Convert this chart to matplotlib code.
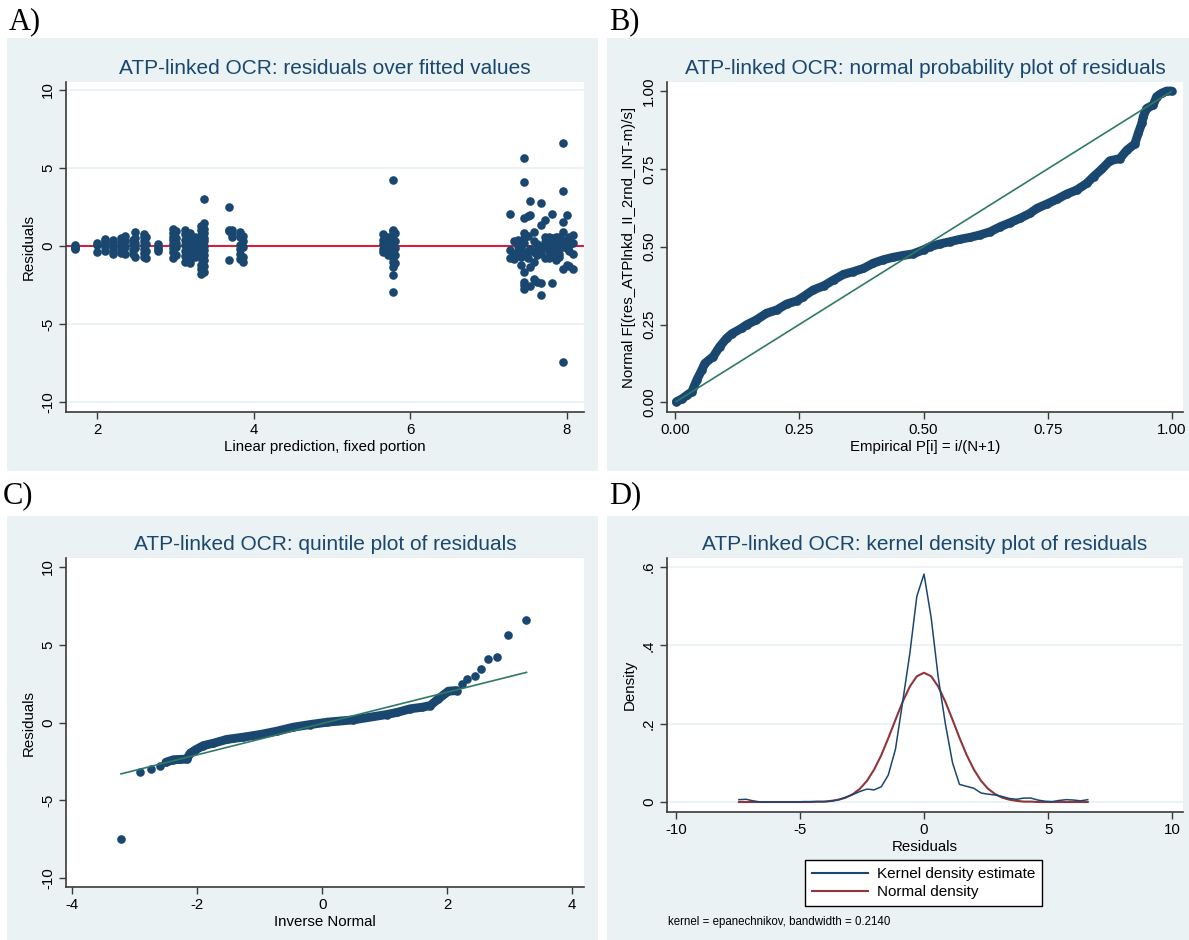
import matplotlib.pyplot as plt
from matplotlib.patches import Rectangle

plt.rcParams['font.family'] = ['Liberation Sans', 'DejaVu Sans']
plt.rcParams['axes.unicode_minus'] = False

# colours (Stata s2color look)
NAVY = '#1a476f'
MAROON = '#90353b'
GREEN = '#2f7a63'
RED = '#d4203c'
BG = '#eaf2f3'
AXC = '#3a3a3a'

# ---------------- data ----------------
# A) residuals over fitted values: one column of points per fitted value
fit_cols = [1.72, 1.99, 2.10, 2.20, 2.30, 2.35, 2.45, 2.48, 2.60, 2.62, 2.78,
            2.97, 3.00, 3.12, 3.18, 3.25, 3.33, 3.36, 3.68, 3.72, 3.82, 3.86,
            5.65, 5.72, 5.78, 5.80,
            7.28, 7.33, 7.38, 7.42, 7.45, 7.50, 7.53, 7.58, 7.62, 7.67, 7.72,
            7.77, 7.81, 7.86, 7.90, 7.95, 8.00, 8.03, 8.08]
fit_res = [
    [0.05, -0.05, -0.15, -0.2],
    [0.2, -0.4, 0.05],
    [0.3, -0.35, -0.1, 0.15, 0.45],
    [0.4, 0.2, -0.1, -0.3, -0.5],
    [0.5, 0.25, 0.0, -0.2, -0.45],
    [0.65, 0.3, -0.1, -0.55],
    [0.35, 0.1, -0.25, -0.5],
    [0.9, 0.5, 0.2, -0.15, -0.7],
    [0.75, 0.55, 0.3, 0.05, -0.2, -0.45, -0.7],
    [0.6, 0.15, -0.35, -0.8],
    [0.1, -0.05, -0.2, -0.3],
    [1.1, 0.85, 0.6, 0.35, 0.1, -0.15, -0.4, -0.8],
    [0.95, 0.5, 0.2, -0.1, -0.6],
    [1.05, 0.75, 0.4, 0.05, -0.3, -0.65, -1.05],
    [0.85, 0.5, 0.2, -0.2, -0.5, -0.9, -1.1],
    [0.6, 0.3, 0.0, -0.35, -0.7],
    [1.3, 1.0, 0.7, 0.45, 0.2, -0.05, -0.3, -0.55, -0.8, -1.2, -1.5, -1.8],
    [3.0, 1.45, 1.1, 0.8, 0.5, 0.3, 0.0, -0.25, -0.6, -0.9, -1.3, -1.65],
    [2.5, 1.05, 0.95, -0.9],
    [1.0, 0.75, 0.6],
    [0.9, 0.6, 0.05, -0.2, -0.55, -0.85],
    [0.65, 0.3, -0.05, -0.7, -1.0],
    [0.75, 0.35, 0.1, -0.2, -0.4],
    [0.6, 0.2, -0.1, -0.35, -0.6],
    [4.25, 1.05, 0.95, 0.7, 0.4, 0.2, 0.0, -0.25, -0.5, -0.8, -1.0, -1.35, -1.85, -2.95],
    [0.85, 0.3, -0.15, -0.6, -1.1],
    [2.05, -0.25, -0.8],
    [0.3, -0.5, -0.85],
    [0.4, 0.0, -0.3, -0.55],
    [-0.1, -0.7, -1.2],
    [5.6, 4.1, 1.8, 0.8, 0.5, 0.2, -0.45, -1.65, -2.3, -2.5, -2.75],
    [1.9, 0.65, -0.3, -0.75],
    [2.9, 2.0, -0.2, -1.35, -2.55],
    [0.9, 0.3, -0.4, -1.0, -2.1],
    [0.1, -0.25, -0.6, -2.3],
    [2.75, 1.35, -0.05, -0.45, -2.35, -3.15],
    [1.65, 0.55, 0.25, -0.1, -0.8],
    [0.6, 0.35, 0.05, -0.3, -0.75],
    [2.05, 0.5, 0.15, -0.25, -0.55, -2.35],
    [0.55, 0.25, -0.1, -0.4, -0.9],
    [0.6, 0.3, 0.0, -0.5, -0.7],
    [6.6, 3.5, 1.5, 0.9, 0.4, -0.05, -1.45, -7.45],
    [1.95, 0.3, -0.15, -1.2],
    [0.6, 0.05, -0.35, -1.3],
    [0.7, 0.2, -0.5, -1.45],
]
fit_x = [x for x, rs in zip(fit_cols, fit_res) for _ in rs]
fit_r = [r for rs in fit_res for r in rs]

# B) normal probability plot
pn_p = [0.003, 0.015, 0.025, 0.034, 0.044, 0.054, 0.060, 0.077, 0.090, 0.104,
        0.114, 0.134, 0.144, 0.164, 0.184, 0.205, 0.225, 0.245, 0.258, 0.278,
        0.299, 0.319, 0.339, 0.359, 0.379, 0.399, 0.419, 0.439, 0.459, 0.479,
        0.500, 0.513, 0.533, 0.553, 0.574, 0.594, 0.614, 0.634, 0.654, 0.674,
        0.694, 0.714, 0.728, 0.748, 0.768, 0.788, 0.808, 0.828, 0.842, 0.858,
        0.875, 0.895, 0.909, 0.925, 0.932, 0.939, 0.942, 0.949, 0.962, 0.969,
        0.979, 0.989, 0.999]
pn_f = [0.002, 0.012, 0.024, 0.034, 0.072, 0.104, 0.125, 0.147, 0.179, 0.206,
        0.220, 0.238, 0.249, 0.265, 0.286, 0.297, 0.316, 0.326, 0.339, 0.361,
        0.374, 0.393, 0.411, 0.420, 0.430, 0.447, 0.458, 0.466, 0.472, 0.477,
        0.490, 0.500, 0.509, 0.516, 0.524, 0.530, 0.538, 0.548, 0.564, 0.577,
        0.591, 0.607, 0.623, 0.637, 0.652, 0.669, 0.682, 0.703, 0.725, 0.748,
        0.776, 0.783, 0.810, 0.830, 0.864, 0.896, 0.918, 0.944, 0.955, 0.982,
        0.993, 1.000, 1.000]
pn_ref = [0.002, 0.998]

# C) quantile plot
qn_q = [-3.22, -2.92, -2.74, -2.60, -2.50, -2.38, -2.27, -2.17, -2.11, -2.03,
        -1.90, -1.74, -1.53, -1.26, -0.99, -0.73, -0.46, -0.19, 0.08, 0.50,
        1.03, 1.20, 1.41, 1.60, 1.73, 1.86, 2.02, 2.15, 2.23, 2.31, 2.45,
        2.54, 2.65, 2.79, 2.97, 3.26]
qn_r = [-7.48, -3.15, -2.98, -2.81, -2.55, -2.39, -2.37, -2.35, -1.97, -1.76,
        -1.48, -1.33, -1.09, -0.94, -0.77, -0.56, -0.30, -0.13, 0.02, 0.17,
        0.51, 0.65, 0.88, 0.98, 1.09, 1.52, 2.01, 2.05, 2.49, 2.77, 2.96,
        3.45, 4.05, 4.20, 5.60, 6.56]
qn_ref_q = [-3.22, 3.27]
qn_ref_r = [-3.30, 3.22]

# D) kernel density vs normal density
kd_u = [-7.46, -7.17, -6.89, -6.60, -6.31, -6.03, -5.74, -5.45, -5.17, -4.88,
        -4.59, -4.31, -4.02, -3.73, -3.44, -3.16, -2.87, -2.58, -2.30, -2.01,
        -1.72, -1.44, -1.15, -0.86, -0.57, -0.29, 0.00, 0.29, 0.57, 0.86,
        1.15, 1.43, 1.72, 2.01, 2.30, 2.58, 2.87, 3.16, 3.44, 3.73,
        4.02, 4.31, 4.59, 4.88, 5.17, 5.45, 5.74, 6.03, 6.31, 6.60]
kd_d = [0.006, 0.007, 0.003, 0.000, 0.000, 0.000, 0.000, 0.000, 0.000, 0.001,
        0.001, 0.001, 0.001, 0.002, 0.006, 0.012, 0.019, 0.027, 0.033, 0.031,
        0.039, 0.069, 0.135, 0.256, 0.380, 0.525, 0.582, 0.470, 0.320, 0.200,
        0.100, 0.045, 0.040, 0.035, 0.023, 0.020, 0.018, 0.014, 0.009, 0.007,
        0.010, 0.010, 0.005, 0.002, 0.001, 0.004, 0.006, 0.005, 0.003, 0.006]
nd_d = [0.000, 0.000, 0.000, 0.000, 0.000, 0.000, 0.000, 0.000, 0.000, 0.000,
        0.000, 0.001, 0.001, 0.003, 0.006, 0.011, 0.020, 0.034, 0.054, 0.083,
        0.120, 0.163, 0.210, 0.256, 0.295, 0.321, 0.330, 0.321, 0.295, 0.256,
        0.210, 0.164, 0.120, 0.083, 0.054, 0.034, 0.020, 0.011, 0.006, 0.003,
        0.001, 0.001, 0.000, 0.000, 0.000, 0.000, 0.000, 0.000, 0.000, 0.000]

# ---------------- figure ----------------
W, H = 1189, 940
fig = plt.figure(figsize=(W / 100, H / 100), dpi=100)


def frect(l, t, r, b):
    return [l / W, 1 - b / H, (r - l) / W, (b - t) / H]


# light panel backgrounds, kept below the axes
for l, t, r, b in [(7, 38, 598, 471), (607, 38, 1189, 471),
                   (7, 516, 598, 940), (607, 516, 1189, 940)]:
    x0, y0, w, h = frect(l, t, r, b)
    fig.patches.append(Rectangle((x0, y0), w, h, transform=fig.transFigure,
                                 facecolor=BG, edgecolor='none', zorder=-10))

for txt, x, y in [('A)', 9, 29), ('B)', 609, 29), ('C)', 3, 503), ('D)', 609, 503)]:
    fig.text(x / W, 1 - y / H, txt, family='Liberation Serif', fontsize=22,
             va='baseline', ha='left')

MS = 6.2


def style(ax, grid=False):
    ax.set_facecolor('white')
    for s in ['top', 'right']:
        ax.spines[s].set_visible(False)
    for s in ['left', 'bottom']:
        ax.spines[s].set_color(AXC)
        ax.spines[s].set_linewidth(1.2)
    ax.tick_params(direction='out', length=5, width=1, color=AXC, labelsize=10.8, pad=3)
    ax.tick_params(axis='y', labelrotation=90)
    for lab in ax.get_yticklabels():
        lab.set_va('center')
    if grid:
        ax.yaxis.grid(True, color=BG, lw=1.3)
        ax.set_axisbelow(True)


def title(cx, cy, txt):
    fig.text(cx / W, 1 - cy / H, txt, ha='center', va='center', fontsize=15, color=NAVY)


# A
axA = fig.add_axes(frect(66, 82, 584, 412))
axA.axhline(0, color=RED, lw=1.5, zorder=1)
axA.plot(fit_x, fit_r, 'o', ms=MS, color=NAVY, mec='none', zorder=2)
axA.set_xlim(1.6, 8.22)
axA.set_ylim(-10.64, 10.5)
axA.set_xticks([2, 4, 6, 8])
axA.set_yticks([-10, -5, 0, 5, 10])
axA.set_xlabel('Linear prediction, fixed portion', fontsize=10.8, labelpad=2)
axA.set_ylabel('Residuals', fontsize=10.8, labelpad=4)
style(axA, grid=True)
title(325, 68, 'ATP-linked OCR: residuals over fitted values')

# B
axB = fig.add_axes(frect(667, 82, 1183, 412))
axB.plot(pn_p, pn_f, '-', lw=6.4, color=NAVY, solid_capstyle='round', zorder=2)
axB.plot(pn_p, pn_f, 'o', ms=MS, color=NAVY, mec='none', zorder=2)
axB.plot(pn_ref, pn_ref, '-', lw=1.2, color=GREEN, zorder=3)
axB.set_xlim(-0.016, 1.022)
axB.set_ylim(-0.031, 1.029)
ticks = [0, 0.25, 0.5, 0.75, 1.0]
tlabs = ['0.00', '0.25', '0.50', '0.75', '1.00']
axB.set_xticks(ticks, tlabs)
axB.set_yticks(ticks, tlabs)
axB.set_xlabel('Empirical P[i] = i/(N+1)', fontsize=10.8, labelpad=2)
axB.set_ylabel('Normal F[(res_ATPlnkd_II_2rnd_INT-m)/s]', fontsize=10.8, labelpad=4)
style(axB)
title(925, 68, 'ATP-linked OCR: normal probability plot of residuals')

# C
axC = fig.add_axes(frect(66, 558, 584, 887))
axC.plot(qn_q[4:28], qn_r[4:28], '-', lw=6.4, color=NAVY, solid_capstyle='round', zorder=2)
axC.plot(qn_q, qn_r, 'o', ms=MS, color=NAVY, mec='none', zorder=2)
axC.plot(qn_ref_q, qn_ref_r, '-', lw=1.2, color=GREEN, zorder=3)
axC.set_xlim(-4.10, 4.19)
axC.set_ylim(-10.56, 10.56)
axC.set_xticks([-4, -2, 0, 2, 4])
axC.set_yticks([-10, -5, 0, 5, 10])
axC.set_xlabel('Inverse Normal', fontsize=10.8, labelpad=2)
axC.set_ylabel('Residuals', fontsize=10.8, labelpad=4)
style(axC)
title(325, 545, 'ATP-linked OCR: quintile plot of residuals')

# D
axD = fig.add_axes(frect(667, 558, 1183, 812))
l1, = axD.plot(kd_u, kd_d, '-', lw=1.1, color=NAVY, zorder=3)
l2, = axD.plot(kd_u, nd_d, '-', lw=1.5, color=MAROON, zorder=2)
axD.set_xlim(-10.36, 10.44)
axD.set_ylim(-0.0255, 0.623)
axD.set_xticks([-10, -5, 0, 5, 10])
axD.set_yticks([0, 0.2, 0.4, 0.6], ['0', '.2', '.4', '.6'])
axD.set_xlabel('Residuals', fontsize=10.8, labelpad=2)
axD.set_ylabel('Density', fontsize=10.8, labelpad=4)
style(axD, grid=True)
title(925, 545, 'ATP-linked OCR: kernel density plot of residuals')

leg = axD.legend([l1, l2], ['Kernel density estimate', 'Normal density'],
                 loc='upper left', bbox_to_anchor=(805 / W, 1 - 860 / H),
                 bbox_transform=fig.transFigure, fontsize=11, frameon=True,
                 fancybox=False, edgecolor='black', framealpha=1,
                 handlelength=3.7, handletextpad=0.55, labelspacing=0.3,
                 borderpad=0.45, borderaxespad=0)
leg.get_frame().set_linewidth(1.0)
for ln in leg.get_lines():
    ln.set_linewidth(1.5)

fig.text(668 / W, 1 - 922 / H, 'kernel = epanechnikov, bandwidth = 0.2140',
         fontsize=8.3, va='center', ha='left')

fig.savefig('out.png', dpi=100)
